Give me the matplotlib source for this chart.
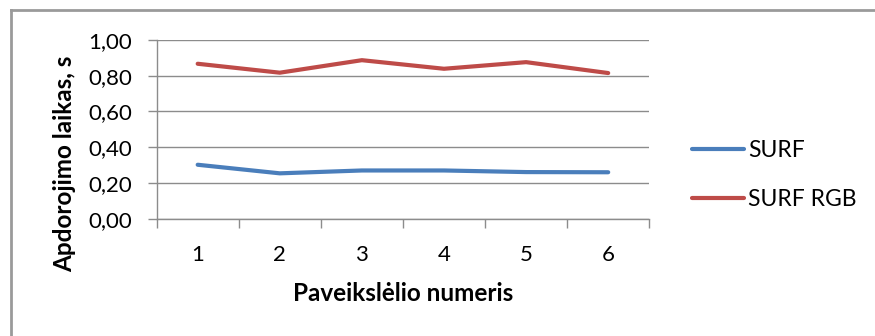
import matplotlib.pyplot as plt
from matplotlib.ticker import FuncFormatter

pictures = [1, 2, 3, 4, 5, 6]
surf = [0.302, 0.254, 0.270, 0.270, 0.261, 0.260]
surf_rgb = [0.867, 0.817, 0.887, 0.839, 0.876, 0.815]

plt.rcParams['font.family'] = ['Lato', 'DejaVu Sans']
grid_col = '#8c8c8c'

fig = plt.figure(figsize=(8.75, 3.36), dpi=100)
ax = fig.add_axes([0.179, 0.349, 0.563, 0.532])

ax.plot(pictures, surf, '-', color='#4A7EBB', lw=3, label='SURF', solid_capstyle='round')
ax.plot(pictures, surf_rgb, '-', color='#BE4B48', lw=3, label='SURF RGB', solid_capstyle='round')

ax.set_xlim(0.5, 6.5)
ax.set_ylim(0, 1)
ax.set_yticks([0, 0.2, 0.4, 0.6, 0.8, 1.0])
ax.yaxis.set_major_formatter(FuncFormatter(lambda v, p: f'{v:.2f}'.replace('.', ',')))
ax.set_xticks([0.5, 1.5, 2.5, 3.5, 4.5, 5.5, 6.5])
ax.set_xticklabels([])
ax.set_xticks(pictures, minor=True)
ax.set_xticklabels([str(p) for p in pictures], minor=True)
ax.tick_params(axis='x', which='minor', length=0, pad=19, labelsize=16)
ax.tick_params(axis='x', which='major', length=6.5, width=1, color=grid_col, direction='out')
ax.tick_params(axis='y', length=6.5, width=1, color=grid_col, direction='out', pad=11, labelsize=16)

ax.grid(axis='y', color=grid_col, lw=1)
ax.set_axisbelow(True)
for s in ['top', 'right']:
    ax.spines[s].set_visible(False)
for s in ['left', 'bottom']:
    ax.spines[s].set_color(grid_col)
    ax.spines[s].set_linewidth(1)

ax.set_xlabel('Paveikslėlio numeris', fontsize=17.5, fontweight='bold', labelpad=12)
ax.set_ylabel('Apdorojimo laikas, s', fontsize=17.5, fontweight='bold')
ax.yaxis.set_label_coords(-0.164, 0.31)

fig.legend(loc='center left', bbox_to_anchor=(0.767, 0.479), frameon=False,
           fontsize=16.5, handlelength=2.3, handletextpad=0.15, labelspacing=1.25)

# outer chart frame (top and left edges visible)
fig.add_artist(plt.Line2D([0.012, 1.0], [0.97, 0.97], color='#9a9a9a', lw=2, transform=fig.transFigure))
fig.add_artist(plt.Line2D([0.012, 0.012], [0.0, 0.97], color='#9a9a9a', lw=2, transform=fig.transFigure))

fig.savefig('out.png', dpi=100)
